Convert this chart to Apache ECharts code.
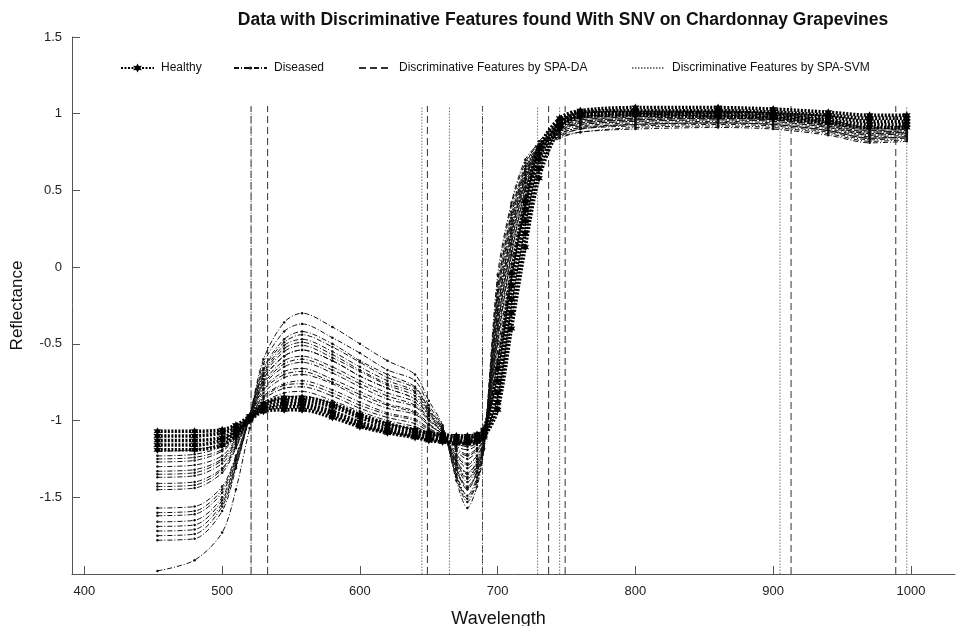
<!DOCTYPE html>
<html>
<head>
<meta charset="utf-8">
<script src="https://cdn.jsdelivr.net/npm/echarts@6.0.0/dist/echarts.min.js"></script>
<style>
  html, body { margin: 0; padding: 0; background: #fff; }
  #main { width: 957px; height: 626px; }
</style>
</head>
<body>
<div id="main"></div>
<script>
// wavelength grid shared by every spectrum
var wavelengths = [453, 480, 500, 510, 520, 530, 545, 558, 580, 600, 620, 640, 650, 660, 670, 678, 685, 690, 700, 710, 720, 730, 745, 760, 800, 860, 900, 940, 970, 997];

var healthy = [
    [-1.07, -1.07, -1.06, -1.03, -0.97, -0.89, -0.85, -0.85, -0.89, -0.96, -1.02, -1.06, -1.08, -1.09, -1.10, -1.10, -1.09, -1.06, -0.66, -0.04, 0.43, 0.78, 0.97, 1.02, 1.04, 1.04, 1.03, 1.01, 0.99, 0.99],
    [-1.10, -1.10, -1.08, -1.05, -0.98, -0.90, -0.87, -0.87, -0.91, -0.98, -1.04, -1.07, -1.09, -1.10, -1.11, -1.11, -1.10, -1.07, -0.74, -0.12, 0.37, 0.74, 0.95, 1.01, 1.02, 1.02, 1.01, 0.99, 0.97, 0.97],
    [-1.13, -1.13, -1.11, -1.07, -0.99, -0.92, -0.89, -0.89, -0.94, -1.01, -1.06, -1.09, -1.11, -1.12, -1.13, -1.13, -1.12, -1.09, -0.82, -0.21, 0.30, 0.70, 0.94, 1.00, 1.01, 1.01, 1.00, 0.98, 0.95, 0.95],
    [-1.16, -1.16, -1.13, -1.08, -0.99, -0.93, -0.91, -0.91, -0.96, -1.03, -1.07, -1.10, -1.12, -1.13, -1.14, -1.14, -1.13, -1.10, -0.88, -0.30, 0.22, 0.64, 0.92, 0.99, 1.00, 0.99, 0.98, 0.96, 0.93, 0.93],
    [-1.19, -1.19, -1.16, -1.10, -1.00, -0.94, -0.93, -0.93, -0.98, -1.04, -1.08, -1.11, -1.13, -1.14, -1.15, -1.15, -1.14, -1.11, -0.93, -0.40, 0.13, 0.58, 0.90, 0.98, 0.99, 0.98, 0.97, 0.94, 0.91, 0.91]
];

var diseased = [
    [-1.78, -1.77, -1.59, -1.31, -0.97, -0.60, -0.36, -0.30, -0.39, -0.50, -0.61, -0.70, -0.87, -1.03, -1.39, -1.57, -1.43, -1.19, -0.20, 0.30, 0.62, 0.76, 0.84, 0.88, 0.90, 0.91, 0.90, 0.86, 0.81, 0.82],
    [-1.75, -1.74, -1.56, -1.30, -0.97, -0.67, -0.49, -0.44, -0.52, -0.62, -0.72, -0.79, -0.93, -1.05, -1.36, -1.51, -1.39, -1.18, -0.05, 0.42, 0.70, 0.80, 0.85, 0.88, 0.91, 0.92, 0.91, 0.87, 0.82, 0.83],
    [-1.72, -1.71, -1.54, -1.29, -0.97, -0.63, -0.42, -0.37, -0.46, -0.56, -0.67, -0.74, -0.90, -1.04, -1.37, -1.53, -1.40, -1.18, -0.30, 0.22, 0.58, 0.75, 0.85, 0.90, 0.92, 0.93, 0.92, 0.88, 0.83, 0.84],
    [-1.69, -1.68, -1.52, -1.28, -0.97, -0.66, -0.47, -0.42, -0.50, -0.61, -0.70, -0.78, -0.92, -1.05, -1.35, -1.49, -1.37, -1.17, -0.10, 0.40, 0.68, 0.80, 0.87, 0.91, 0.93, 0.94, 0.93, 0.89, 0.84, 0.85],
    [-1.66, -1.65, -1.50, -1.26, -0.97, -0.69, -0.51, -0.47, -0.55, -0.65, -0.74, -0.81, -0.94, -1.06, -1.32, -1.45, -1.34, -1.16, -0.40, 0.15, 0.55, 0.76, 0.88, 0.92, 0.94, 0.95, 0.94, 0.90, 0.85, 0.86],
    [-1.62, -1.61, -1.47, -1.25, -0.97, -0.71, -0.55, -0.51, -0.59, -0.68, -0.77, -0.84, -0.96, -1.06, -1.31, -1.43, -1.33, -1.16, -0.25, 0.28, 0.62, 0.79, 0.89, 0.93, 0.95, 0.96, 0.95, 0.91, 0.86, 0.87],
    [-1.60, -1.59, -1.45, -1.24, -0.97, -0.70, -0.53, -0.49, -0.57, -0.67, -0.76, -0.82, -0.95, -1.06, -1.32, -1.44, -1.34, -1.16, -0.15, 0.34, 0.64, 0.78, 0.86, 0.90, 0.93, 0.94, 0.93, 0.89, 0.84, 0.85],
    [-1.57, -1.56, -1.43, -1.23, -0.97, -0.73, -0.58, -0.54, -0.61, -0.71, -0.79, -0.86, -0.97, -1.07, -1.29, -1.40, -1.31, -1.15, -0.50, 0.08, 0.50, 0.75, 0.89, 0.94, 0.96, 0.97, 0.96, 0.92, 0.87, 0.88],
    [-1.45, -1.44, -1.34, -1.18, -0.97, -0.75, -0.61, -0.58, -0.65, -0.74, -0.82, -0.88, -0.99, -1.07, -1.27, -1.37, -1.29, -1.15, -0.35, 0.20, 0.58, 0.79, 0.91, 0.95, 0.97, 0.98, 0.97, 0.93, 0.88, 0.89],
    [-1.43, -1.42, -1.32, -1.17, -0.97, -0.76, -0.63, -0.60, -0.67, -0.76, -0.84, -0.90, -0.99, -1.08, -1.26, -1.35, -1.27, -1.14, -0.38, 0.18, 0.57, 0.78, 0.90, 0.94, 0.96, 0.97, 0.96, 0.92, 0.87, 0.88],
    [-1.41, -1.40, -1.31, -1.16, -0.97, -0.77, -0.65, -0.62, -0.69, -0.78, -0.86, -0.91, -1.00, -1.08, -1.26, -1.34, -1.27, -1.14, -0.15, 0.36, 0.66, 0.82, 0.93, 0.96, 0.98, 0.99, 0.98, 0.94, 0.89, 0.90],
    [-1.37, -1.36, -1.28, -1.15, -0.97, -0.79, -0.68, -0.66, -0.73, -0.81, -0.89, -0.94, -1.02, -1.09, -1.24, -1.31, -1.25, -1.14, -0.45, 0.10, 0.52, 0.77, 0.93, 0.97, 0.99, 1.00, 0.99, 0.95, 0.90, 0.91],
    [-1.35, -1.34, -1.26, -1.14, -0.97, -0.80, -0.70, -0.68, -0.75, -0.83, -0.90, -0.95, -1.03, -1.09, -1.23, -1.29, -1.23, -1.13, -0.20, 0.32, 0.64, 0.80, 0.90, 0.93, 0.95, 0.96, 0.95, 0.91, 0.86, 0.87],
    [-1.33, -1.32, -1.25, -1.13, -0.97, -0.82, -0.72, -0.70, -0.76, -0.85, -0.92, -0.96, -1.03, -1.09, -1.22, -1.28, -1.23, -1.13, -0.28, 0.25, 0.60, 0.79, 0.91, 0.94, 0.96, 0.97, 0.96, 0.92, 0.87, 0.88],
    [-1.30, -1.29, -1.23, -1.12, -0.97, -0.84, -0.76, -0.74, -0.80, -0.88, -0.95, -0.99, -1.05, -1.10, -1.20, -1.25, -1.20, -1.12, -0.55, 0.02, 0.46, 0.74, 0.92, 0.95, 0.97, 0.98, 0.97, 0.93, 0.88, 0.89],
    [-1.27, -1.26, -1.20, -1.11, -0.97, -0.86, -0.79, -0.78, -0.84, -0.92, -0.98, -1.02, -1.07, -1.10, -1.18, -1.22, -1.18, -1.12, -0.40, 0.15, 0.55, 0.79, 0.95, 0.98, 1.00, 1.01, 1.00, 0.96, 0.91, 0.92],
    [-1.25, -1.24, -1.19, -1.10, -0.97, -0.88, -0.82, -0.81, -0.87, -0.94, -1.00, -1.04, -1.08, -1.11, -1.17, -1.19, -1.16, -1.11, -0.60, -0.04, 0.42, 0.72, 0.94, 0.97, 0.99, 1.00, 0.99, 0.95, 0.90, 0.91],
    [-1.23, -1.22, -1.17, -1.09, -0.97, -0.85, -0.77, -0.76, -0.82, -0.90, -0.96, -1.00, -1.06, -1.10, -1.19, -1.23, -1.19, -1.12, -0.48, 0.08, 0.50, 0.76, 0.93, 0.96, 0.98, 0.99, 0.98, 0.94, 0.89, 0.90],
    [-1.20, -1.19, -1.15, -1.08, -0.97, -0.89, -0.85, -0.84, -0.89, -0.97, -1.02, -1.06, -1.09, -1.11, -1.15, -1.17, -1.15, -1.11, -0.62, -0.08, 0.38, 0.70, 0.95, 0.98, 1.00, 1.01, 1.00, 0.96, 0.91, 0.92],
    [-1.98, -1.91, -1.73, -1.45, -1.05, -0.73, -0.58, -0.54, -0.61, -0.71, -0.79, -0.86, -0.97, -1.07, -1.28, -1.38, -1.30, -1.15, -0.30, 0.24, 0.60, 0.77, 0.87, 0.91, 0.93, 0.94, 0.93, 0.89, 0.84, 0.85]
];

// selected bands
var spaDa = [521, 533, 649, 689, 737, 749, 913, 989];
var spaSvm = [521, 645, 665, 689, 729, 745, 905, 997];
var featureSpan = [-2, 1.05];

var xTicks = [400, 500, 600, 700, 800, 900, 1000];

var starPath = 'path://M0,-10 L2.6,-4.5 L8.7,-5 L5.2,0 L8.7,5 L2.6,4.5 L0,10 L-2.6,4.5 L-8.7,5 L-5.2,0 L-8.7,-5 L-2.6,-4.5 Z';

function pairs(ys) {
    return wavelengths.map(function (w, i) { return [w, ys[i]]; });
}

function legendAt(name, left, h) {
    return {
        data: [name],
        left: left,
        top: 57,
        itemWidth: 33,
        itemHeight: h,
        textStyle: { fontSize: 12, color: '#111', padding: [0, 0, 0, 2] }
    };
}

var series = [];

spaDa.forEach(function (w) {
    series.push({
        name: 'Discriminative Features by SPA-DA',
        type: 'line',
        data: [[w, featureSpan[0]], [w, featureSpan[1]]],
        symbol: 'none',
        silent: true,
        itemStyle: { color: '#333' },
        lineStyle: { color: '#333', width: 1, type: [7, 4] },
        z: 1
    });
});

spaSvm.forEach(function (w) {
    series.push({
        name: 'Discriminative Features by SPA-SVM',
        type: 'line',
        data: [[w, featureSpan[0]], [w, featureSpan[1]]],
        symbol: 'none',
        silent: true,
        itemStyle: { color: '#777' },
        lineStyle: { color: '#777', width: 1, type: [1.5, 1.5] },
        z: 1
    });
});

diseased.forEach(function (ys) {
    series.push({
        name: 'Diseased',
        type: 'line',
        data: pairs(ys),
        smooth: 0.3,
        symbol: 'circle',
        symbolSize: 2.5,
        itemStyle: { color: '#111' },
        lineStyle: { color: '#111', width: 1, type: [5, 2, 1, 2] },
        z: 2
    });
});

healthy.forEach(function (ys) {
    series.push({
        name: 'Healthy',
        type: 'line',
        data: pairs(ys),
        smooth: 0.3,
        symbol: starPath,
        symbolSize: 8,
        itemStyle: { color: '#000' },
        lineStyle: { color: '#000', width: 3.5, type: [2, 1.5] },
        z: 3
    });
});

var myChart = echarts.init(document.getElementById('main'));
myChart.setOption({
    backgroundColor: '#fff',
    animation: false,
    textStyle: { fontFamily: 'Liberation Sans, Arial, sans-serif' },
    title: {
        text: 'Data with Discriminative Features found With SNV on Chardonnay Grapevines',
        left: 558,
        textAlign: 'center',
        top: 6,
        textStyle: { fontSize: 17.5, fontWeight: 'bold', color: '#111' }
    },
    legend: [
        legendAt('Healthy', 115, 11),
        legendAt('Diseased', 228, 4),
        legendAt('Discriminative Features by SPA-DA', 353, 1),
        legendAt('Discriminative Features by SPA-SVM', 626, 1)
    ],
    grid: { left: 72, right: 2, top: 37, bottom: 52, outerBoundsMode: 'none' },
    xAxis: {
        type: 'value',
        min: 391,
        max: 1032,
        name: 'Wavelength',
        nameLocation: 'middle',
        nameGap: 36,
        nameTextStyle: { fontSize: 18, color: '#111', padding: [0, 30, 0, 0] },
        splitLine: { show: false },
        axisLine: { onZero: false, lineStyle: { color: '#555' } },
        axisTick: { inside: true, length: 8, customValues: xTicks, lineStyle: { color: '#555' } },
        axisLabel: {
            customValues: xTicks,
            fontSize: 13,
            color: '#222',
            margin: 11,
            formatter: function (v) { return String(v); }
        }
    },
    yAxis: {
        type: 'value',
        min: -2,
        max: 1.5,
        interval: 0.5,
        name: 'Reflectance',
        nameLocation: 'middle',
        nameGap: 46,
        nameTextStyle: { fontSize: 17, color: '#111' },
        splitLine: { show: false },
        axisLine: { show: true, onZero: false, lineStyle: { color: '#555' } },
        axisTick: { inside: true, length: 8, lineStyle: { color: '#555' } },
        axisLabel: { showMinLabel: false, fontSize: 13, color: '#222', margin: 10 }
    },
    series: series
});
</script>
</body>
</html>
